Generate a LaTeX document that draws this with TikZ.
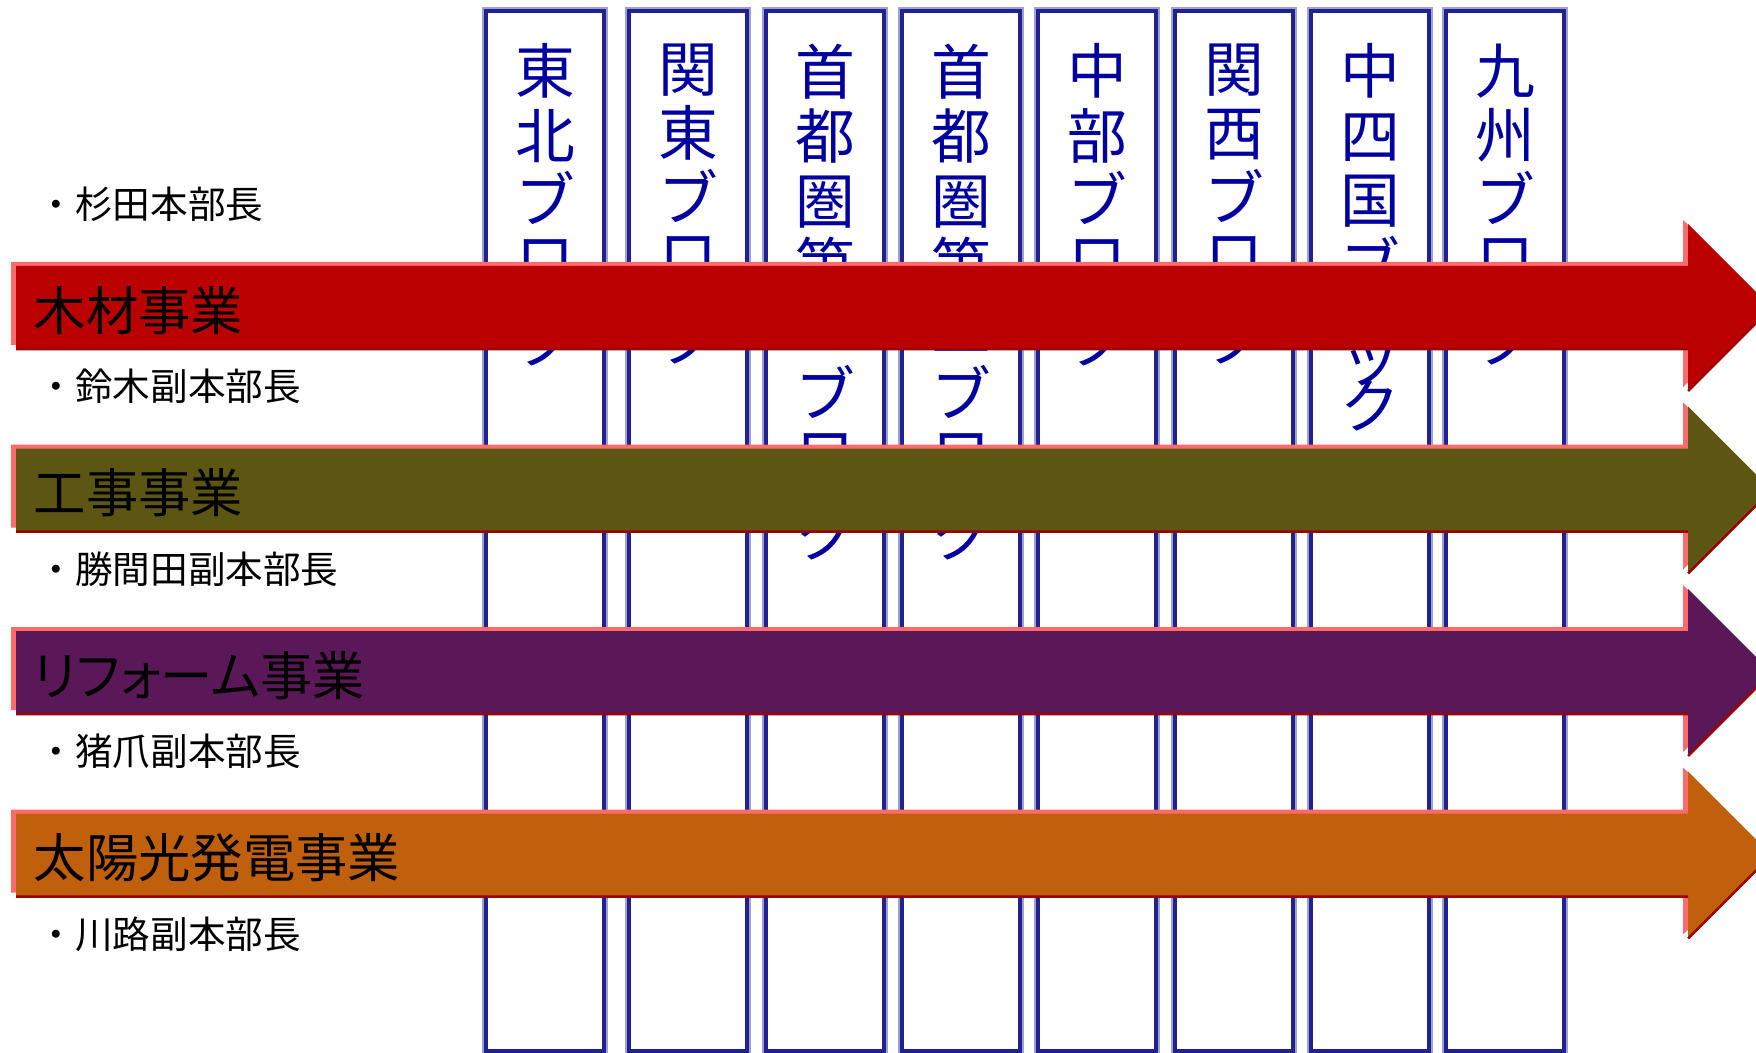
\documentclass[tikz,border=0pt]{standalone}
\usepackage{fontspec}
\setmainfont{Noto Sans CJK JP}
\usetikzlibrary{calc}

\definecolor{colline}{HTML}{22228E}
\definecolor{colhalo}{HTML}{A0A0D8}
\definecolor{coltext}{HTML}{0000A0}
\definecolor{arrlight}{HTML}{FF6A6A}
\definecolor{arredge}{HTML}{9C0000}
\definecolor{woodfill}{HTML}{BA0000}
\definecolor{workfill}{HTML}{5C5612}
\definecolor{reformfill}{HTML}{5A1858}
\definecolor{solarfill}{HTML}{C0600C}

\newcommand{\blocktail}{ブ\\[-2pt]ロ\\[-8pt]ッ\\[-5pt]ク}

\tikzset{
	column/.style={draw=colline, line width=0.4mm, fill=white},
	colhalo/.style={draw=colhalo, line width=0.75mm},
	coltxt/.style={anchor=north, align=center, inner sep=0pt, text=coltext, font=\fontsize{17}{18.35}\selectfont},
	person/.style={anchor=west, inner sep=0pt, font=\fontsize{10.7}{12}\selectfont},
	bizname/.style={anchor=west, inner sep=0pt, font=\fontsize{14.9}{16}\selectfont}
}

\begin{document}
\begin{tikzpicture}[x=0.1mm,y=-0.1mm]
	\pgfmathsetmacro{\colw}{118}		%width of a block column
	\pgfmathsetmacro{\coltop}{11}		%top of the columns
	\pgfmathsetmacro{\colbot}{1051}		%bottom of the columns
	\pgfmathsetmacro{\arrtop}{266}		%top of the first arrow shaft
	\pgfmathsetmacro{\arrgap}{182.5}	%distance between the arrows
	\pgfmathsetmacro{\shaft}{83}		%height of the shaft
	\pgfmathsetmacro{\arrleft}{16}		%left end of the shaft
	\pgfmathsetmacro{\headx}{1688}		%start of the arrow head
	\pgfmathsetmacro{\headover}{42}		%head over the shaft

	%calculated
	\pgfmathsetmacro{\tipx}{\headx+\shaft/2+\headover}	%tip of the head

	\useasboundingbox (0,0) rectangle (1756,1053);

	%block columns
	\foreach \cx in {545,688,825,961,1097,1234,1370,1505}{
		\draw[colhalo] (\cx-\colw/2,\coltop) rectangle (\cx+\colw/2,\colbot);
		\draw[column] (\cx-\colw/2,\coltop) rectangle (\cx+\colw/2,\colbot);
	}

	\node[coltxt] (tohoku) at (545,43) {東\\北\\\blocktail};
	\node[coltxt] (kanto) at (688,43) {関\\東\\\blocktail};
	\node[coltxt] (shuto1) at (825,43) {首\\都\\圏\\第\\一\\\blocktail};
	\node[coltxt] (shuto2) at (961,43) {首\\都\\圏\\第\\二\\\blocktail};
	\node[coltxt] (chubu) at (1097,43) {中\\部\\\blocktail};
	\node[coltxt] (kansai) at (1234,43) {関\\西\\\blocktail};
	\node[coltxt] (chushikoku) at (1370,43) {中\\四\\国\\\blocktail};
	\node[coltxt] (kyushu) at (1505,43) {九\\州\\\blocktail};

	%heads of each business
	\node[person] (sugita) at (37,204) {・杉田本部長};
	\node[person] (suzuki) at (37,386) {・鈴木副本部長};
	\node[person] (katsumata) at (37,569) {・勝間田副本部長};
	\node[person] (inotsume) at (37,751) {・猪爪副本部長};
	\node[person] (kawaji) at (37,934) {・川路副本部長};

	%business arrows
	\foreach \fcol/\lab/\nm [count=\k from 0] in {woodfill/木材事業/wood, workfill/工事事業/work, reformfill/{\addfontfeature{RawFeature=+palt}リフォーム事業}/reform, solarfill/太陽光発電事業/solar}{
		\pgfmathsetmacro{\yt}{\arrtop+\k*\arrgap}
		\pgfmathsetmacro{\yb}{\yt+\shaft}
		\pgfmathsetmacro{\ym}{\yt+\shaft/2}

		\fill[arrlight, shift={(-5,-4)}] (\arrleft,\yt) -- (\headx,\yt) -- (\headx,\yt-\headover) -- (\tipx,\ym) -- (\headx,\yb+\headover) -- (\headx,\yb) -- (\arrleft,\yb) -- cycle;
		\fill[\fcol] (\arrleft,\yt) -- (\headx,\yt) -- (\headx,\yt-\headover) -- (\tipx,\ym) -- (\headx,\yb+\headover) -- (\headx,\yb) -- (\arrleft,\yb) -- cycle;
		\draw[arredge, line width=0.25mm] (\arrleft,\yb) -- (\headx,\yb) (\headx,\yb+\headover) -- (\tipx,\ym);

		\node[bizname] (\nm) at (33,\ym+3) {\lab};
	}

\end{tikzpicture}
\end{document}
